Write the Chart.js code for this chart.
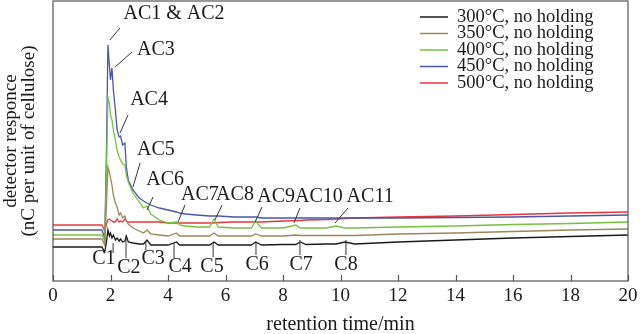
<!DOCTYPE html>
<html>
<head>
<meta charset="utf-8">
<script src="https://cdn.jsdelivr.net/npm/chart.js@4.4.1/dist/chart.umd.min.js"></script>
<style>
  html, body { margin: 0; padding: 0; background: #fff; }
  #wrap { width: 640px; height: 334px; }
</style>
</head>
<body>
<div id="wrap"><canvas id="chromChart"></canvas></div>
<script>
// retention time (min), shared by all runs
const retentionTimes = [0, 1.70, 1.80, 1.86, 1.91, 1.96, 2.00, 2.05, 2.10, 2.17,
    2.23, 2.30, 2.35, 2.42, 2.50, 2.55, 2.62, 2.78, 3.00, 3.15,
    3.27, 3.40, 3.70, 4.00, 4.30, 4.40, 4.60, 5.00, 5.45, 5.60,
    5.75, 6.30, 6.90, 7.05, 7.25, 8.00, 8.45, 8.60, 8.80, 9.50,
    9.85, 10.15, 10.50, 12, 14, 16, 18, 20];

// detector response, arbitrary units (curves are offset as in the figure)
const resp300 = [38, 38, 33, 43, 55, 49, 52, 47, 50, 45,
    47, 44, 46, 43, 44, 49, 43, 42, 41, 41,
    45, 40, 40, 40, 43, 40, 40, 40, 40, 43,
    40, 40, 40, 43, 40, 40.5, 40.5, 43, 40.5, 41,
    41, 43, 41, 43, 45, 47, 48.5, 50];
const resp350 = [46, 46, 40, 80, 118, 113, 107, 100, 90, 82,
    78, 70, 72, 67, 69, 64, 61, 57, 54, 52,
    55, 51, 50, 49, 52, 49, 49, 49, 49, 52,
    49, 49, 49, 51, 49, 49, 50, 49.5, 49.5, 49.5,
    49.5, 49.5, 49.5, 51, 52, 53.5, 55, 56];
const resp400 = [50, 50, 44, 115, 188, 182, 170, 165, 155, 145,
    135, 128, 125, 121, 120, 110, 103, 92, 83, 77,
    79, 71, 65, 62, 63, 60, 59, 58, 58, 66,
    58, 57, 57, 64, 57, 57, 60, 57, 57, 57,
    59, 57, 57, 58, 59, 60.5, 61.5, 63];
const resp450 = [55, 55, 47, 135, 240, 220, 205, 217, 195, 175,
    155, 148, 149, 140, 142, 118, 105, 95, 87, 84,
    82, 80, 77, 75, 73, 72, 71, 70, 69, 69,
    69, 68, 68, 68, 67, 67, 67, 67, 67, 67,
    67, 67, 67, 67, 67.5, 68, 69, 70];
const resp500 = [60, 60, 54, 61, 65, 66, 65, 64, 63, 63,
    66, 63, 64, 63, 66, 64, 63, 63, 63, 63,
    63, 63, 63, 62, 62, 62, 62, 62, 62, 62,
    62.5, 63, 63, 63, 63, 64, 64.5, 64.5, 65, 65.5,
    66, 66.5, 67, 68, 69, 70.5, 72, 73];

const seriesLabels = ['300\u00b0C, no holding', '350\u00b0C, no holding', '400\u00b0C, no holding',
    '450\u00b0C, no holding', '500\u00b0C, no holding'];
const seriesColors = ['#1a1a1a', '#9a8858', '#78c040', '#4a56a8', '#e8363c'];
const seriesValues = [resp300, resp350, resp400, resp450, resp500];

const xTickValues = [0, 2, 4, 6, 8, 10, 12, 14, 16, 18, 20];

// peak callouts: text position and leader line, in data units
const callouts = [
    { text: 'AC1 & AC2', tx: 4.21, ty: 271, x1: 2.33, y1: 257, x2: 1.98, y2: 245 },
    { text: 'AC3', tx: 3.58, ty: 235, x1: 2.75, y1: 233, x2: 2.16, y2: 218 },
    { text: 'AC4', tx: 3.34, ty: 185, x1: 2.61, y1: 170, x2: 2.33, y2: 152 },
    { text: 'AC5', tx: 3.58, ty: 135, x1: 3.03, y1: 122, x2: 2.78, y2: 98 },
    { text: 'AC6', tx: 3.90, ty: 105, x1: 3.48, y1: 88, x2: 3.27, y2: 75 },
    { text: 'AC7', tx: 5.11, ty: 90, x1: 4.59, y1: 80, x2: 4.35, y2: 63 },
    { text: 'AC8', tx: 6.33, ty: 90, x1: 5.88, y1: 80, x2: 5.63, y2: 65 },
    { text: 'AC9', tx: 7.76, ty: 88, x1: 7.27, y1: 78, x2: 7.03, y2: 63 },
    { text: 'AC10', tx: 9.25, ty: 88, x1: 8.59, y1: 77, x2: 8.38, y2: 62 },
    { text: 'AC11', tx: 11.03, ty: 88, x1: 10.26, y1: 77, x2: 9.81, y2: 62 },
    { text: 'C1', tx: 1.77, ty: 26, x1: 2.09, y1: 42, x2: 2.09, y2: 32 },
    { text: 'C2', tx: 2.64, ty: 17, x1: 2.54, y1: 49, x2: 2.54, y2: 27 },
    { text: 'C3', tx: 3.48, ty: 26, x1: 3.23, y1: 43, x2: 3.23, y2: 35 },
    { text: 'C4', tx: 4.42, ty: 18, x1: 4.21, y1: 42, x2: 4.21, y2: 27 },
    { text: 'C5', tx: 5.53, ty: 18, x1: 5.57, y1: 42, x2: 5.57, y2: 28 },
    { text: 'C6', tx: 7.10, ty: 20, x1: 7.06, y1: 42, x2: 7.06, y2: 30 },
    { text: 'C7', tx: 8.63, ty: 20, x1: 8.59, y1: 45, x2: 8.59, y2: 30 },
    { text: 'C8', tx: 10.19, ty: 20, x1: 10.19, y1: 45, x2: 10.19, y2: 30 }
];

const serif = "'Liberation Serif', 'Times New Roman', serif";

// frame, inward ticks, callouts and legend
const decorations = {
    id: 'decorations',
    afterDatasetsDraw(chart) {
        const ctx = chart.ctx;
        const area = chart.chartArea;
        const xs = chart.scales.x, ys = chart.scales.y;
        ctx.save();
        ctx.strokeStyle = '#555';
        ctx.lineWidth = 1.2;
        ctx.strokeRect(area.left, area.top, area.right - area.left, area.bottom - area.top);
        ctx.beginPath();
        xTickValues.forEach(function(v) {
            const px = Math.round(xs.getPixelForValue(v)) + 0.5;
            ctx.moveTo(px, area.bottom);
            ctx.lineTo(px, area.bottom - 6);
        });
        ctx.stroke();

        ctx.fillStyle = '#1a1a1a';
        ctx.strokeStyle = '#333';
        ctx.lineWidth = 1;
        ctx.font = '20px ' + serif;
        ctx.textAlign = 'center';
        ctx.textBaseline = 'middle';
        callouts.forEach(function(c) {
            ctx.beginPath();
            ctx.moveTo(xs.getPixelForValue(c.x1), ys.getPixelForValue(c.y1));
            ctx.lineTo(xs.getPixelForValue(c.x2), ys.getPixelForValue(c.y2));
            ctx.stroke();
            ctx.fillText(c.text, xs.getPixelForValue(c.tx), ys.getPixelForValue(c.ty));
        });

        // legend, top right inside the frame
        ctx.font = '18.5px ' + serif;
        ctx.textAlign = 'left';
        chart.data.datasets.forEach(function(ds, i) {
            const y = area.top + 16 + i * 16.5;
            ctx.strokeStyle = ds.borderColor;
            ctx.lineWidth = 1.5;
            ctx.beginPath();
            ctx.moveTo(area.right - 208, y);
            ctx.lineTo(area.right - 180, y);
            ctx.stroke();
            ctx.fillText(ds.label, area.right - 171, y);
        });
        ctx.restore();
    }
};

const datasets = seriesValues.map(function(values, i) {
    return {
        label: seriesLabels[i],
        data: retentionTimes.map(function(t, j) { return { x: t, y: values[j] }; }),
        borderColor: seriesColors[i],
        borderWidth: 1.3,
        pointRadius: 0,
        tension: 0,
        fill: false
    };
});

new Chart(document.getElementById('chromChart'), {
    type: 'line',
    data: { datasets: datasets },
    options: {
        responsive: true,
        maintainAspectRatio: false,
        animation: false,
        devicePixelRatio: 1,
        layout: { padding: { top: 1, right: 12, left: 0, bottom: 0 } },
        plugins: { legend: { display: false }, tooltip: { enabled: false } },
        scales: {
            x: {
                type: 'linear',
                min: 0,
                max: 20,
                afterBuildTicks: function(scale) {
                    scale.ticks = xTickValues.map(function(v) { return { value: v }; });
                },
                afterFit: function(scale) { scale.height = 53; },
                grid: { display: false },
                border: { display: false },
                ticks: { color: '#1a1a1a', padding: -4, maxRotation: 0, font: { family: serif, size: 19 } },
                title: {
                    display: true,
                    text: 'retention time/min',
                    color: '#1a1a1a',
                    padding: { top: 0, bottom: -3 },
                    font: { family: serif, size: 20 }
                }
            },
            y: {
                min: 4,
                max: 284,
                afterFit: function(scale) { scale.width = 53; },
                grid: { display: false },
                border: { display: false },
                ticks: { display: false },
                title: {
                    display: true,
                    text: ['detector responce', '(nC per unit of cellulose)'],
                    color: '#1a1a1a',
                    padding: { top: 2, bottom: 0 },
                    font: { family: serif, size: 19, lineHeight: 0.95 }
                }
            }
        }
    },
    plugins: [decorations]
});
</script>
</body>
</html>
